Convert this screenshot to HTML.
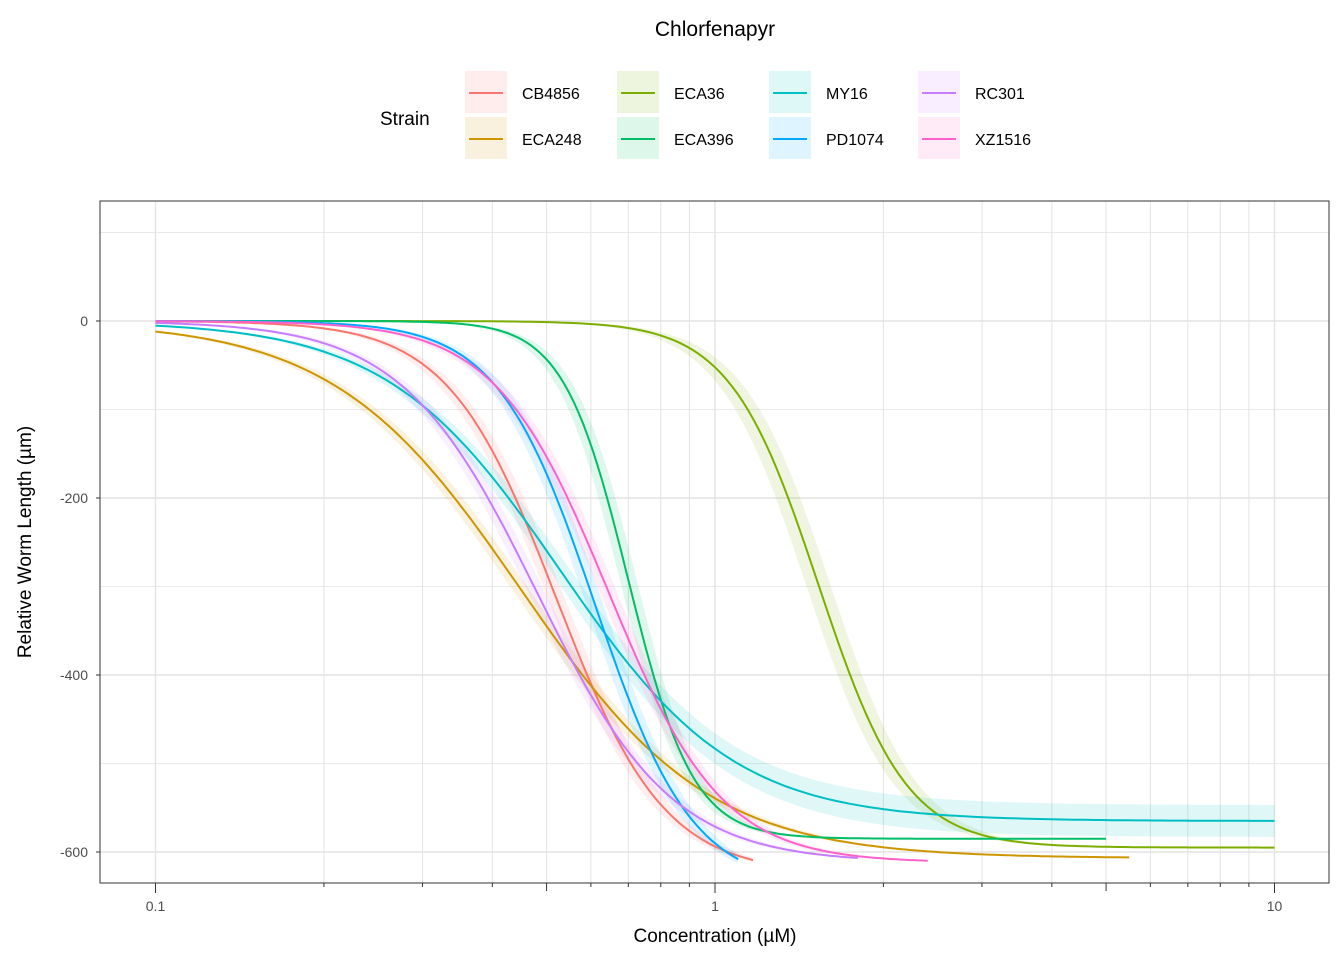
<!DOCTYPE html>
<html><head><meta charset="utf-8"><style>
body{margin:0;background:#fff;font-family:"Liberation Sans",Arial,sans-serif;}
</style></head><body>
<svg id="chart" width="1344" height="960" xmlns="http://www.w3.org/2000/svg" font-family="Liberation Sans, Arial, sans-serif">
<text x="715" y="36" font-size="21" text-anchor="middle">Chlorfenapyr</text>
<text x="380" y="125" font-size="19">Strain</text>
<g id="legend"></g>
<rect x="100" y="201" width="1229" height="682" fill="#fff"/>
<g id="grid"></g>
<g id="bands"></g>
<g id="lines"></g>
<rect x="100" y="201" width="1229" height="682" fill="none" stroke="#333" stroke-width="1"/>
<g id="axes"></g>
<text x="715" y="942" font-size="19" text-anchor="middle">Concentration (µM)</text>
<text transform="translate(31,542) rotate(-90)" font-size="19" text-anchor="middle">Relative Worm Length (µm)</text>
</svg>
<script>
const strains=["CB4856","ECA248","ECA36","ECA396","MY16","PD1074","RC301","XZ1516"];
const colors=["#F8766D","#CD9600","#7CAE00","#00BE67","#00BFC4","#00A9FF","#C77CFF","#FF61CC"];
const lowerLimits=[-625,-607,-595,-585,-565,-640,-612,-612];
const ec50=[0.52,0.45,1.53,0.70,0.53,0.61,0.48,0.645];
const slopes=[4.5,2.6,5.5,7.5,2.8,5.0,3.6,4.3];
const xMax=[1.17,5.5,10,5,10,1.1,1.8,2.4];
const xMin=0.1;
const yTicks=[0,-200,-400,-600];
const xTicks=[0.1,1,10];
const xTickLabels=["0.1","1","10"];

const NS="http://www.w3.org/2000/svg";
const X=v=>715+559.5*Math.log10(v);
const Y=v=>321-v*177/200;
function mk(tag,attrs,parent){const e=document.createElementNS(NS,tag);for(const k in attrs)e.setAttribute(k,attrs[k]);parent.appendChild(e);return e;}
const grid=document.getElementById('grid'),axes=document.getElementById('axes');
for(let v=100;v>=-600;v-=100){const major=v%200===0;
 const l=mk('line',{x1:100,x2:1329,y1:Y(v),y2:Y(v),stroke:'#e3e3e3','stroke-width':major?1.4:0.7},grid);
 
 }
for(let d=-1;d<=0;d++){for(let m=1;m<=9;m++){const v=m*Math.pow(10,d);const x=X(v);
 const l=mk('line',{x1:x,x2:x,y1:201,y2:883,stroke:'#e3e3e3','stroke-width':m===1?1.4:1},grid);
 
 
 if(m>1){mk('line',{x1:x,x2:x,y1:883,y2:m===5?891:887,stroke:'#333','stroke-width':1},axes);}
}}
{const x=X(10);const l=mk('line',{x1:x,x2:x,y1:201,y2:883,stroke:'#e3e3e3','stroke-width':1.4},grid);
 
 }
[0.1,1,10].forEach(v=>mk('line',{x1:X(v),x2:X(v),y1:883,y2:893,stroke:'#333','stroke-width':1},axes));
xTicks.forEach((v,i)=>{const t=mk('text',{x:X(v),y:911,'font-size':14,fill:'#4d4d4d','text-anchor':'middle'},axes);t.textContent=xTickLabels[i];
 
 });
yTicks.forEach(v=>{mk('line',{x1:96,x2:100,y1:Y(v),y2:Y(v),stroke:'#333'},axes);
 const t=mk('text',{x:88,y:Y(v)+5,'font-size':14,fill:'#4d4d4d','text-anchor':'end'},axes);t.textContent=v;
 
 });
function f(x,i,ef){return lowerLimits[i]/(1+Math.pow(ec50[i]*ef/x,slopes[i]));}
const bands=document.getElementById('bands'),lines=document.getElementById('lines');
strains.forEach((s,i)=>{
 const n=200,l0=Math.log10(xMin),l1=Math.log10(xMax[i]);let pts=[],up=[],lo=[];
 const bw=(i===2)?0.05:0.035;
 for(let k=0;k<=n;k++){const x=Math.pow(10,l0+(l1-l0)*k/n);
  pts.push(X(x).toFixed(1)+','+Y(f(x,i,1)).toFixed(1));
  const extra=(i===4)?16*(1-1/(1+Math.pow(x/0.9,3))):0;
  up.push(X(x).toFixed(1)+','+(Y(f(x,i,1+bw))-extra).toFixed(1));
  lo.push(X(x).toFixed(1)+','+(Y(f(x,i,1-bw))+extra).toFixed(1));}
 const b=mk('polygon',{points:up.concat(lo.reverse()).join(' '),fill:colors[i],'fill-opacity':0.12,stroke:'none'},bands);
 
 
 const p=mk('polyline',{points:pts.join(' '),fill:'none',stroke:colors[i],'stroke-width':2},lines);
 
 
});
const lg=document.getElementById('legend');const cols=[465,617,769,918];
strains.forEach((s,i)=>{const c=cols[Math.floor(i/2)],r=i%2;const y0=71+r*46;
 const g=mk('g',{},lg);
 
 
 mk('rect',{x:c,y:y0,width:42,height:42,fill:colors[i],'fill-opacity':0.13},g);
 mk('line',{x1:c+4,x2:c+38,y1:y0+22,y2:y0+22,stroke:colors[i],'stroke-width':2},g);
 const t=mk('text',{x:c+57,y:y0+28,'font-size':16},g);t.textContent=s;});
</script>
</body></html>
